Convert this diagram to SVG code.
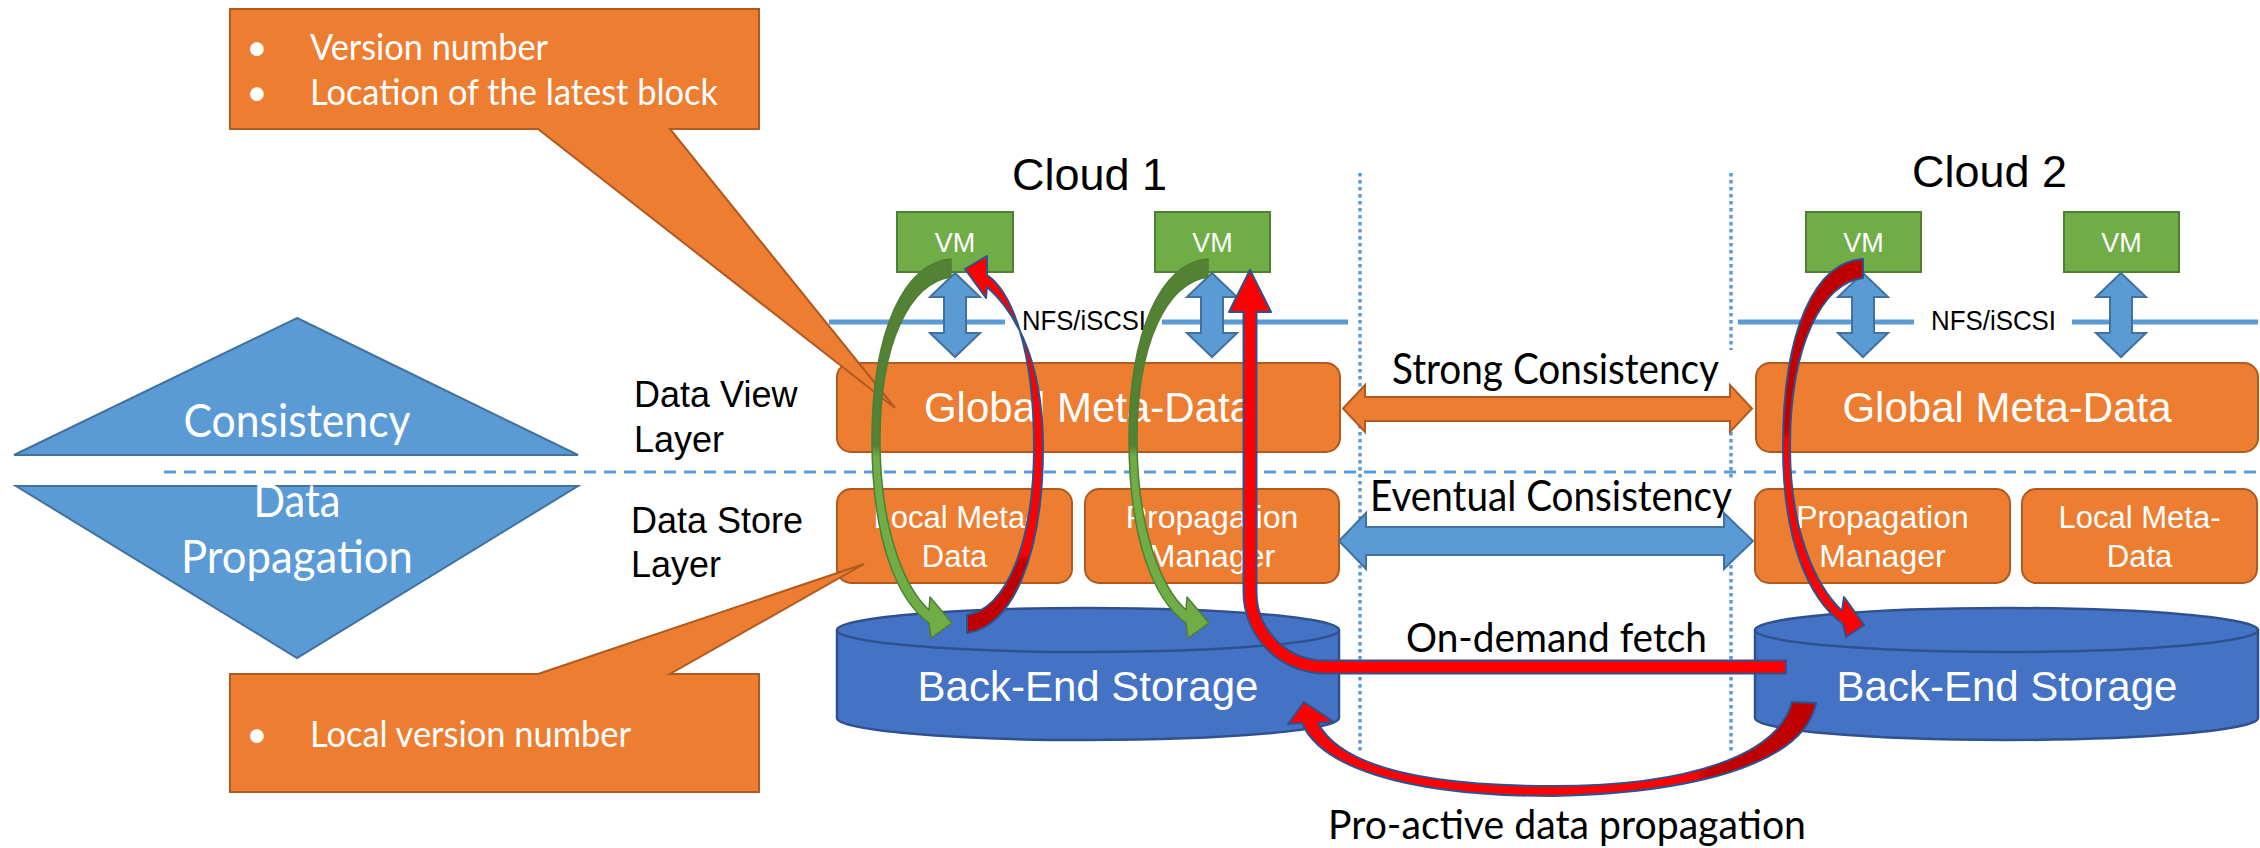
<svg xmlns="http://www.w3.org/2000/svg" width="2260" height="848" viewBox="0 0 2260 848">
<defs>
<style>
.ari{font-family:"Liberation Sans",Arial,sans-serif}
.cal{font-family:Lato,"Open Sans",sans-serif}
.w{fill:#FFFFFF}
.k{fill:#000000}
.orange{fill:#ED7D31;stroke:#AE5A21;stroke-width:2}
.vm{fill:#70AD47;stroke:#507E32;stroke-width:2}
.blue{fill:#5B9BD5;stroke:#41719C;stroke-width:2}
.cyl{fill:#4472C4;stroke:#2F528F;stroke-width:2.5}
.rim{fill:none;stroke:#2F528F;stroke-width:2.5}
.bus{stroke:#5B9BD5;stroke-width:5;fill:none}
.dashh{stroke:#5B9BD5;stroke-width:3;stroke-dasharray:12 8;fill:none}
.dotv{stroke:#5B9BD5;stroke-width:3.5;stroke-dasharray:3.5 3.5;fill:none}
.redo{stroke:#2F528F;stroke-width:2;stroke-linejoin:round}
.greeno{stroke:#507E32;stroke-width:1.5;stroke-linejoin:round}
</style>
<linearGradient id="gGreen" gradientUnits="userSpaceOnUse" x1="0" y1="250" x2="0" y2="640">
<stop offset="0" stop-color="#548235"/><stop offset="0.5" stop-color="#548235"/><stop offset="0.53" stop-color="#70AD47"/><stop offset="1" stop-color="#70AD47"/>
</linearGradient>
<linearGradient id="gRedUp" gradientUnits="userSpaceOnUse" x1="0" y1="250" x2="0" y2="640">
<stop offset="0" stop-color="#FF0000"/><stop offset="0.78" stop-color="#FF0000"/><stop offset="0.8" stop-color="#C00000"/><stop offset="1" stop-color="#C00000"/>
</linearGradient>
<linearGradient id="gRedDown" gradientUnits="userSpaceOnUse" x1="0" y1="250" x2="0" y2="640">
<stop offset="0" stop-color="#C00000"/><stop offset="0.46" stop-color="#C00000"/><stop offset="0.49" stop-color="#FF0000"/><stop offset="1" stop-color="#FF0000"/>
</linearGradient>
<linearGradient id="gRedPro" gradientUnits="userSpaceOnUse" x1="1290" y1="0" x2="1820" y2="0">
<stop offset="0" stop-color="#FF0000"/><stop offset="0.76" stop-color="#FF0000"/><stop offset="0.79" stop-color="#C00000"/><stop offset="1" stop-color="#C00000"/>
</linearGradient>
</defs>
<rect x="0" y="0" width="2260" height="848" fill="#FFFFFF"/>

<g id="guides">
<line class="dashh" x1="164" y1="472" x2="2260" y2="472"/>
<line class="dotv" x1="1360" y1="173" x2="1360" y2="752"/>
<line class="dotv" x1="1731" y1="173" x2="1731" y2="752"/>
</g>

<g id="consistency-triangle">
<polygon class="blue" points="297,318 578,455 14,455"/>
<text class="cal w" x="297" y="437" font-size="46" text-anchor="middle" textLength="227" lengthAdjust="spacingAndGlyphs">Consistency</text>
</g>
<g id="propagation-triangle">
<polygon class="blue" points="16,486 578,486 297,658"/>
<text class="cal w" x="297" y="517" font-size="46" text-anchor="middle" textLength="87" lengthAdjust="spacingAndGlyphs">Data</text>
<text class="cal w" x="297" y="573" font-size="46" text-anchor="middle" textLength="232" lengthAdjust="spacingAndGlyphs">Propagation</text>
</g>

<g id="label-data-view">
<text class="ari k" x="634" y="407" font-size="36">Data View</text>
<text class="ari k" x="634" y="452" font-size="36">Layer</text>
</g>
<g id="label-data-store">
<text class="ari k" x="631" y="533" font-size="36">Data Store</text>
<text class="ari k" x="631" y="577" font-size="36">Layer</text>
</g>

<g id="cloud1-title"><text class="ari k" x="1012" y="190" font-size="45">Cloud 1</text></g>
<g id="cloud2-title"><text class="ari k" x="1912" y="187" font-size="45">Cloud 2</text></g>

<g id="c1-bus">
<line class="bus" x1="829" y1="322" x2="1005" y2="322"/>
<line class="bus" x1="1162" y1="322" x2="1348" y2="322"/>
<text class="ari k" x="1022" y="330" font-size="28" textLength="124" lengthAdjust="spacingAndGlyphs">NFS/iSCSI</text>
</g>
<g id="c2-bus">
<line class="bus" x1="1738" y1="322" x2="1914" y2="322"/>
<line class="bus" x1="2072" y1="322" x2="2258" y2="322"/>
<text class="ari k" x="1931" y="330" font-size="28" textLength="125" lengthAdjust="spacingAndGlyphs">NFS/iSCSI</text>
</g>

<g id="c1-vm1"><rect class="vm" x="897" y="212" width="116" height="60"/><text class="ari w" x="955" y="252" font-size="27" text-anchor="middle">VM</text></g>
<g id="c1-vm2"><rect class="vm" x="1155" y="212" width="115" height="60"/><text class="ari w" x="1212.5" y="252" font-size="27" text-anchor="middle">VM</text></g>
<g id="c2-vm1"><rect class="vm" x="1806" y="212" width="115" height="60"/><text class="ari w" x="1863.5" y="252" font-size="27" text-anchor="middle">VM</text></g>
<g id="c2-vm2"><rect class="vm" x="2064" y="212" width="115" height="60"/><text class="ari w" x="2121.5" y="252" font-size="27" text-anchor="middle">VM</text></g>

<g id="c1-global"><rect class="orange" x="837" y="363" width="503" height="89" rx="14"/><text class="ari w" x="1088.5" y="422" font-size="42" text-anchor="middle">Global Meta-Data</text></g>
<g id="c2-global"><rect class="orange" x="1756" y="363" width="502" height="89" rx="14"/><text class="ari w" x="2007" y="422" font-size="42" text-anchor="middle">Global Meta-Data</text></g>

<g id="c1-local"><rect class="orange" x="837" y="489" width="235" height="94" rx="14"/><text class="ari w" x="954.5" y="528" font-size="31" text-anchor="middle">Local Meta-</text><text class="ari w" x="954.5" y="567" font-size="31" text-anchor="middle">Data</text></g>
<g id="c1-prop"><rect class="orange" x="1085" y="489" width="254" height="94" rx="14"/><text class="ari w" x="1212" y="528" font-size="32" text-anchor="middle">Propagation</text><text class="ari w" x="1212" y="567" font-size="32" text-anchor="middle">Manager</text></g>
<g id="c2-prop"><rect class="orange" x="1755" y="489" width="255" height="94" rx="14"/><text class="ari w" x="1882.5" y="528" font-size="32" text-anchor="middle">Propagation</text><text class="ari w" x="1882.5" y="567" font-size="32" text-anchor="middle">Manager</text></g>
<g id="c2-local"><rect class="orange" x="2022" y="489" width="235" height="94" rx="14"/><text class="ari w" x="2139.5" y="528" font-size="31" text-anchor="middle">Local Meta-</text><text class="ari w" x="2139.5" y="567" font-size="31" text-anchor="middle">Data</text></g>

<g id="c1-storage">
<path class="cyl" d="M837,630 A251,22 0 0 1 1339,630 L1339,718 A251,22 0 0 1 837,718 Z"/>
<path class="rim" d="M837,630 A251,22 0 0 0 1339,630"/>
<text class="ari w" x="1088" y="701" font-size="42" text-anchor="middle">Back-End Storage</text>
</g>
<g id="c2-storage">
<path class="cyl" d="M1755,630 A251.5,22 0 0 1 2258,630 L2258,718 A251.5,22 0 0 1 1755,718 Z"/>
<path class="rim" d="M1755,630 A251.5,22 0 0 0 2258,630"/>
<text class="ari w" x="2007" y="701" font-size="42" text-anchor="middle">Back-End Storage</text>
</g>

<g id="callout-global">
<polygon class="orange" points="230,9 759,9 759,129 670,129 895,408 538,129 230,129"/>
<text class="cal w" x="257" y="60" font-size="36" text-anchor="middle">•</text>
<text class="cal w" x="310" y="60" font-size="36" textLength="238" lengthAdjust="spacingAndGlyphs">Version number</text>
<text class="cal w" x="257" y="105" font-size="36" text-anchor="middle">•</text>
<text class="cal w" x="310" y="105" font-size="36" textLength="408" lengthAdjust="spacingAndGlyphs">Location of the latest block</text>
</g>
<g id="callout-local">
<polygon class="orange" points="230,674 538,674 864,564 670,674 759,674 759,792 230,792"/>
<text class="cal w" x="257" y="747" font-size="36" text-anchor="middle">•</text>
<text class="cal w" x="310" y="747" font-size="36" textLength="321" lengthAdjust="spacingAndGlyphs">Local version number</text>
</g>

<g id="connectors">
<g id="nfs-arrows">
<polygon class="blue" points="955,273 980,297 966,297 966,333 980,333 955,357 930,333 944,333 944,297 930,297"/>
<polygon class="blue" points="1212,273 1237,297 1223,297 1223,333 1237,333 1212,357 1187,333 1201,333 1201,297 1187,297"/>
<polygon class="blue" points="1863,273 1888,297 1874,297 1874,333 1888,333 1863,357 1838,333 1852,333 1852,297 1838,297"/>
<polygon class="blue" points="2121,273 2146,297 2132,297 2132,333 2146,333 2121,357 2096,333 2110,333 2110,297 2096,297"/>
</g>
<g id="strong-consistency">
<rect x="1366" y="350" width="367" height="47" fill="#FFFFFF"/>
<polygon class="orange" points="1343,408.5 1365,385 1365,397 1730,397 1730,385 1752,408.5 1730,432 1730,421 1365,421 1365,432"/>
<text class="cal k" x="1392" y="384" font-size="43" textLength="327" lengthAdjust="spacingAndGlyphs">Strong Consistency</text>
</g>
<g id="eventual-consistency">
<rect x="1367" y="478" width="369" height="48" fill="#FFFFFF"/>
<polygon class="blue" points="1339,541 1366,513 1366,527 1724,527 1724,513 1753,541 1724,569 1724,555 1366,555 1366,569"/>
<text class="cal k" x="1370" y="511" font-size="43" textLength="362" lengthAdjust="spacingAndGlyphs">Eventual Consistency</text>
</g>
<g id="c1-write-vm1">
<path class="greeno" fill="url(#gGreen)" d="M951,259 C905,262 872,330 872,440 C872,540 897,600 929,623 L931,638 L952,623 L930,597 L929,610 C905,588 880,530 880,440 C880,342 910,283 951,277 Z"/>
</g>
<g id="c1-read-vm1">
<path class="redo" fill="url(#gRedUp)" d="M967,615 C1005,610 1034,545 1034,447 C1034,350 1012,292 987,275 L987,256 L965,269 L986,298 L987,287 C1008,305 1043,350 1043,447 C1043,560 1010,628 967,633 Z"/>
</g>
<g id="c1-write-vm2">
<path class="greeno" fill="url(#gGreen)" transform="translate(257,0)" d="M951,259 C905,262 872,330 872,440 C872,540 897,600 929,623 L931,638 L952,623 L930,597 L929,610 C905,588 880,530 880,440 C880,342 910,283 951,277 Z"/>
</g>
<g id="on-demand-fetch">
<path class="redo" fill="#FF0000" d="M1250,270 L1271,312 L1256.5,312 L1256.5,592 A68.5,68.5 0 0 0 1325,660.5 L1786,660.5 L1786,673.5 L1325,673.5 A81.5,81.5 0 0 1 1243.5,592 L1243.5,312 L1229,312 Z"/>
<text class="cal k" x="1406" y="652" font-size="41" textLength="301" lengthAdjust="spacingAndGlyphs">On-demand fetch</text>
</g>
<g id="c2-write-vm1">
<path class="redo" fill="url(#gRedDown)" d="M1863,259 C1815,262 1783,330 1783,447 C1783,540 1808,598 1843,624 L1846,637 L1864,625 L1844,597 L1842,611 C1815,585 1790,530 1790,447 C1790,345 1822,283 1863,278 Z"/>
</g>
<g id="pro-active-propagation">
<path class="redo" fill="url(#gRedPro)" d="M1816,703 C1806,755 1720,792 1553,796 C1400,796 1320,765 1302,723 L1288,724 L1304,702 L1334,722 L1318,723 C1340,765 1420,786 1553,786 C1690,786 1778,755 1792,702 Z"/>
<text class="cal k" x="1328" y="839" font-size="41" textLength="478" lengthAdjust="spacingAndGlyphs">Pro-active data propagation</text>
</g>
</g>
</svg>
